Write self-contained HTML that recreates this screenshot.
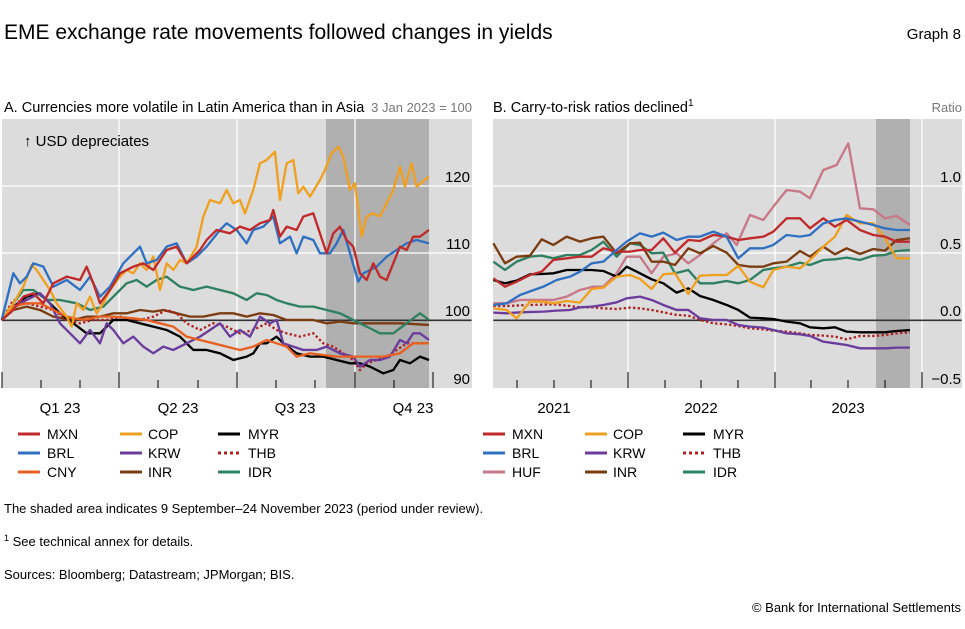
<!DOCTYPE html>
<html><head><meta charset="utf-8"><style>
body{margin:0;background:#fff;width:965px;height:624px;overflow:hidden;font-family:"Liberation Sans",sans-serif}
</style></head><body>
<svg width="965" height="624" viewBox="0 0 965 624" xmlns="http://www.w3.org/2000/svg" font-family="Liberation Sans, sans-serif">
<text x="4" y="39" font-size="21" fill="#000">EME exchange rate movements followed changes in yields</text>
<text x="961" y="39" font-size="15" fill="#000" text-anchor="end">Graph 8</text>
<text x="4" y="112" font-size="14.5">A. Currencies more volatile in Latin America than in Asia</text>
<text x="493" y="112" font-size="14.5">B. Carry-to-risk ratios declined<tspan font-size="10" dy="-6">1</tspan></text>
<text x="472" y="112" font-size="13" fill="#777" text-anchor="end">3 Jan 2023 = 100</text>
<text x="962" y="112" font-size="13" fill="#777" text-anchor="end">Ratio</text>

<!-- Panel A -->
<rect x="2" y="119" width="470" height="269" fill="#dcdcdc"/>
<rect x="326" y="119" width="103" height="269" fill="#b0b0b0"/>
<g stroke="#fff" stroke-width="1.3">
<line x1="2" y1="186" x2="472" y2="186"/><line x1="2" y1="253" x2="472" y2="253"/>
<line x1="119" y1="119" x2="119" y2="388"/><line x1="237" y1="119" x2="237" y2="388"/><line x1="355" y1="119" x2="355" y2="388"/>
</g>
<g stroke="#000" stroke-width="1">
<line x1="2" y1="372" x2="2" y2="388"/><line x1="119" y1="372" x2="119" y2="388"/><line x1="237" y1="372" x2="237" y2="388"/><line x1="355" y1="372" x2="355" y2="388"/><line x1="433" y1="372" x2="433" y2="388"/>
<line x1="41" y1="380" x2="41" y2="388"/><line x1="80" y1="380" x2="80" y2="388"/><line x1="158" y1="380" x2="158" y2="388"/><line x1="198" y1="380" x2="198" y2="388"/><line x1="276" y1="380" x2="276" y2="388"/><line x1="315" y1="380" x2="315" y2="388"/><line x1="394" y1="380" x2="394" y2="388"/>
</g>
<text x="24" y="146" font-size="15">↑ USD depreciates</text>
<g font-size="15" text-anchor="end"><text x="470" y="182">120</text><text x="470" y="249">110</text><text x="470" y="316">100</text><text x="470" y="384">90</text></g>
<g font-size="15" text-anchor="middle"><text x="60" y="413">Q1 23</text><text x="178" y="413">Q2 23</text><text x="295" y="413">Q3 23</text><text x="413" y="413">Q4 23</text></g>
<g transform="translate(0,90) scale(0.3333)" fill="none" stroke-width="7" stroke-linejoin="round">
<line x1="5" y1="691" x2="1415" y2="691" stroke="#333" stroke-width="5"/>
<polyline stroke="#7a3c10" points="5,690 40,660 80,650 120,660 160,680 220,690 260,680 300,680 340,670 380,670 420,660 460,665 490,660 530,670 570,680 610,680 660,670 700,670 740,680 780,670 820,675 860,690 900,690 940,690 980,700 1020,695 1060,700 1100,700 1150,700 1200,700 1287,705"/>
<polyline stroke="#2e8060" points="5,690 40,640 70,600 100,600 140,630 180,630 230,640 270,660 310,650 350,610 380,580 410,570 440,590 470,570 500,560 540,590 580,600 620,590 660,600 700,610 740,630 770,610 800,615 830,630 860,640 900,650 940,650 980,660 1020,670 1060,690 1100,710 1140,730 1180,730 1220,700 1260,670 1287,690"/>
<polyline stroke="#b02020" stroke-dasharray="7,7" points="5,690 40,630 80,640 120,650 160,660 200,690 240,700 280,690 320,690 360,680 420,690 460,680 500,660 530,670 560,700 600,720 640,700 680,710 720,730 760,720 800,700 830,720 860,730 900,740 940,730 970,760 1000,770 1030,790 1060,810 1080,840 1100,820 1130,810 1160,800 1190,780 1220,760 1260,760 1287,760"/>
<polyline stroke="#000" points="5,690 40,650 80,620 120,610 150,640 180,670 220,700 260,730 300,730 340,690 380,690 420,700 460,710 500,720 540,740 580,780 620,780 660,790 700,810 740,800 760,790 780,760 800,760 830,740 850,760 890,790 930,800 970,800 1010,810 1050,820 1080,820 1110,830 1150,850 1180,840 1200,810 1230,820 1260,800 1287,810"/>
<polyline stroke="#6a3c9c" points="5,690 40,650 80,630 120,610 150,640 180,700 210,730 240,760 270,720 300,760 320,700 340,720 370,760 400,740 430,770 460,790 490,770 520,780 560,760 600,740 630,720 660,700 690,740 720,720 750,740 780,680 810,700 830,690 850,760 880,770 910,780 950,780 980,770 1020,790 1060,800 1080,830 1110,810 1140,810 1170,800 1200,750 1220,760 1240,730 1260,730 1287,750"/>
<polyline stroke="#e86020" points="5,690 40,650 80,640 120,640 160,660 200,680 250,690 300,680 340,680 400,685 440,690 480,700 520,710 560,740 600,750 640,760 680,770 720,780 760,770 800,750 830,760 860,770 890,800 930,790 970,795 1010,800 1050,800 1100,800 1150,800 1200,790 1240,760 1287,760"/>
<polyline stroke="#f0a020" points="5,690 40,640 70,590 95,525 110,540 130,570 150,600 170,640 200,680 215,710 230,640 250,660 270,620 290,670 310,640 330,600 360,560 380,540 400,550 420,520 440,540 460,500 480,600 500,520 520,540 540,510 560,520 590,470 610,380 630,330 660,340 680,300 700,340 720,330 735,370 760,300 780,220 800,210 825,185 840,330 860,220 880,210 895,310 910,290 930,320 960,270 975,240 995,190 1015,170 1030,200 1050,300 1065,280 1085,440 1100,380 1120,370 1140,380 1160,340 1180,300 1200,230 1215,290 1235,220 1250,290 1287,260"/>
<polyline stroke="#3070c0" points="5,690 40,550 60,580 80,560 100,520 130,530 160,590 200,570 240,600 270,560 300,620 330,590 370,520 400,490 420,470 440,520 470,510 500,470 530,460 560,520 590,500 620,470 660,420 680,400 710,420 740,460 760,420 790,410 820,380 840,460 870,440 890,490 910,440 940,450 960,490 990,490 1010,460 1030,420 1050,490 1075,575 1090,550 1110,540 1130,530 1160,500 1190,480 1220,460 1250,450 1287,460"/>
<polyline stroke="#c02a2a" points="5,690 40,660 70,620 100,610 130,640 160,580 200,560 240,570 260,530 280,580 300,640 330,600 360,550 400,530 430,520 460,540 500,480 530,470 560,520 600,480 620,450 650,420 690,430 720,410 750,420 780,400 810,390 820,360 840,440 860,410 890,420 910,380 940,370 960,430 980,490 1000,430 1020,410 1040,450 1060,470 1080,550 1100,570 1120,520 1140,560 1160,570 1180,520 1200,470 1220,480 1240,440 1260,440 1287,420"/>
</g>

<!-- Panel B -->
<rect x="493" y="119" width="469" height="269" fill="#dcdcdc"/>
<rect x="876" y="119" width="34" height="269" fill="#b0b0b0"/>
<g stroke="#fff" stroke-width="1.3">
<line x1="493" y1="186" x2="962" y2="186"/><line x1="493" y1="253" x2="962" y2="253"/>
<line x1="628" y1="119" x2="628" y2="388"/><line x1="775" y1="119" x2="775" y2="388"/><line x1="922" y1="119" x2="922" y2="388"/>
</g>
<g stroke="#000" stroke-width="1">
<line x1="628" y1="372" x2="628" y2="388"/><line x1="775" y1="372" x2="775" y2="388"/><line x1="922" y1="372" x2="922" y2="388"/>
<line x1="517" y1="380" x2="517" y2="388"/><line x1="554" y1="380" x2="554" y2="388"/><line x1="591" y1="380" x2="591" y2="388"/><line x1="665" y1="380" x2="665" y2="388"/><line x1="701" y1="380" x2="701" y2="388"/><line x1="738" y1="380" x2="738" y2="388"/><line x1="811" y1="380" x2="811" y2="388"/><line x1="848" y1="380" x2="848" y2="388"/><line x1="885" y1="380" x2="885" y2="388"/>
</g>
<g font-size="15" text-anchor="end"><text x="961" y="182">1.0</text><text x="961" y="249">0.5</text><text x="961" y="316">0.0</text><text x="961" y="384">−0.5</text></g>
<g font-size="15" text-anchor="middle"><text x="554" y="413">2021</text><text x="701" y="413">2022</text><text x="848" y="413">2023</text></g>
<g transform="translate(480,90) scale(0.3333)" fill="none" stroke-width="7" stroke-linejoin="round">
<line x1="40" y1="691" x2="1445" y2="691" stroke="#333" stroke-width="5"/>
<polyline stroke="#c87888" points="40,640 80,640 120,630 160,630 220,630 260,620 300,600 340,590 370,590 410,550 440,500 480,500 515,550 550,500 590,490 625,520 660,495 700,460 740,430 770,465 810,375 850,390 880,350 920,300 960,305 990,325 1030,240 1070,225 1105,160 1140,355 1180,358 1215,385 1250,378 1290,405"/>
<polyline stroke="#2e8060" points="40,515 75,540 110,515 150,500 185,497 220,505 260,495 300,495 335,480 370,455 410,500 450,460 480,465 515,490 550,488 585,550 625,540 660,580 700,580 740,573 775,580 810,570 850,540 880,535 920,530 960,518 990,525 1030,510 1065,508 1100,503 1140,510 1180,497 1215,495 1250,483 1290,480"/>
<polyline stroke="#7a3c10" points="40,460 75,520 110,500 150,497 185,448 220,465 260,440 300,455 335,445 370,440 410,490 450,460 480,458 515,515 550,515 585,525 625,475 660,490 700,468 740,488 775,525 810,530 850,530 880,520 920,515 960,483 990,500 1030,470 1065,493 1100,475 1140,492 1180,477 1215,482 1250,450 1290,445"/>
<polyline stroke="#b02020" stroke-dasharray="7,7" points="40,648 80,648 150,645 220,643 260,647 300,652 335,652 370,655 410,657 450,653 480,655 515,660 550,667 590,675 625,677 660,690 700,700 740,703 775,708 810,715 850,718 880,722 920,725 960,730 990,735 1030,737 1065,740 1100,748 1140,738 1180,738 1215,735 1250,730 1290,727"/>
<polyline stroke="#000" points="40,570 75,580 110,572 150,553 185,552 220,550 260,540 300,540 335,540 370,543 410,560 440,530 480,550 515,568 550,580 590,608 625,595 660,618 700,630 740,645 775,660 810,683 850,685 880,687 920,695 960,700 990,712 1030,715 1065,712 1100,725 1140,727 1180,727 1215,727 1250,723 1290,720"/>
<polyline stroke="#6a3c9c" points="40,668 80,670 120,667 190,665 230,662 270,660 300,652 335,650 370,645 410,637 440,625 480,620 515,630 550,645 590,660 625,660 660,685 700,690 740,690 775,705 810,710 850,713 880,720 920,730 960,733 990,738 1030,755 1065,760 1100,765 1140,775 1180,775 1215,775 1250,773 1290,773"/>
<polyline stroke="#f0a020" points="40,655 80,660 110,685 150,635 185,635 220,640 260,633 300,638 335,597 370,593 410,560 450,555 480,567 515,597 550,553 585,550 625,612 660,557 700,555 740,555 775,528 810,575 850,592 880,540 920,530 960,535 990,510 1030,470 1065,440 1100,375 1140,400 1180,400 1215,445 1250,505 1290,505"/>
<polyline stroke="#c02a2a" points="40,565 75,590 110,575 150,555 185,545 220,510 260,505 300,500 335,500 370,475 410,485 450,485 480,480 515,480 550,445 585,488 625,450 660,453 700,435 740,440 775,450 810,445 850,440 880,425 920,385 960,385 990,415 1030,385 1065,410 1100,390 1140,420 1180,435 1215,440 1250,455 1290,455"/>
<polyline stroke="#3070c0" points="40,645 80,640 120,615 190,590 230,570 270,560 300,545 335,520 370,515 410,480 440,455 480,430 515,440 550,428 590,450 625,440 660,440 700,425 740,440 775,505 810,475 850,475 880,465 920,435 960,440 990,435 1030,400 1065,390 1100,385 1140,395 1180,405 1215,415 1250,420 1290,420"/>
</g>

<!-- Legends -->
<g stroke-width="3">
<line x1="18" y1="434" x2="40" y2="434" stroke="#c02a2a"/><line x1="120" y1="434" x2="142" y2="434" stroke="#f0a020"/><line x1="218" y1="434" x2="240" y2="434" stroke="#000"/>
<line x1="18" y1="453" x2="40" y2="453" stroke="#3070c0"/><line x1="120" y1="453" x2="142" y2="453" stroke="#6a3c9c"/><line x1="218" y1="453" x2="240" y2="453" stroke="#b02020" stroke-dasharray="3,3"/>
<line x1="18" y1="472" x2="40" y2="472" stroke="#e86020"/><line x1="120" y1="472" x2="142" y2="472" stroke="#7a3c10"/><line x1="218" y1="472" x2="240" y2="472" stroke="#2e8060"/>
<line x1="483" y1="434" x2="505" y2="434" stroke="#c02a2a"/><line x1="585" y1="434" x2="607" y2="434" stroke="#f0a020"/><line x1="683" y1="434" x2="705" y2="434" stroke="#000"/>
<line x1="483" y1="453" x2="505" y2="453" stroke="#3070c0"/><line x1="585" y1="453" x2="607" y2="453" stroke="#6a3c9c"/><line x1="683" y1="453" x2="705" y2="453" stroke="#b02020" stroke-dasharray="3,3"/>
<line x1="483" y1="472" x2="505" y2="472" stroke="#c87888"/><line x1="585" y1="472" x2="607" y2="472" stroke="#7a3c10"/><line x1="683" y1="472" x2="705" y2="472" stroke="#2e8060"/>
</g>
<g font-size="14">
<text x="47" y="439">MXN</text><text x="148" y="439">COP</text><text x="248" y="439">MYR</text>
<text x="47" y="458">BRL</text><text x="148" y="458">KRW</text><text x="248" y="458">THB</text>
<text x="47" y="477">CNY</text><text x="148" y="477">INR</text><text x="248" y="477">IDR</text>
<text x="512" y="439">MXN</text><text x="613" y="439">COP</text><text x="713" y="439">MYR</text>
<text x="512" y="458">BRL</text><text x="613" y="458">KRW</text><text x="713" y="458">THB</text>
<text x="512" y="477">HUF</text><text x="613" y="477">INR</text><text x="713" y="477">IDR</text>
</g>
<g font-size="13">
<text x="4" y="513">The shaded area indicates 9 September–24 November 2023 (period under review).</text>
<text x="4" y="546"><tspan font-size="9" dy="-5">1</tspan><tspan dy="5">  See technical annex for details.</tspan></text>
<text x="4" y="579">Sources: Bloomberg; Datastream; JPMorgan; BIS.</text>
<text x="961" y="612" text-anchor="end">© Bank for International Settlements</text>
</g>
</svg>
</body></html>
